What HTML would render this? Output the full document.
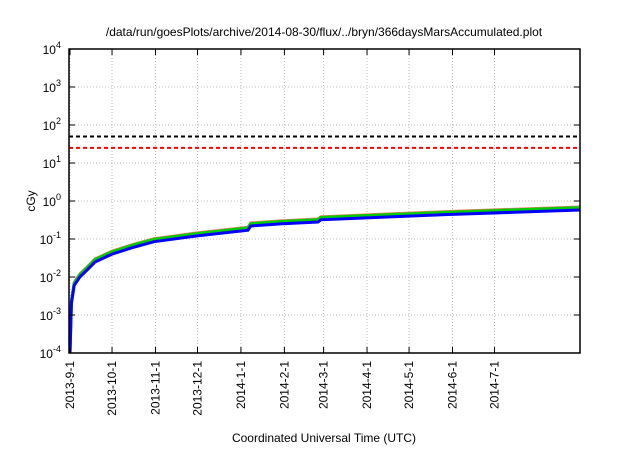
<!DOCTYPE html>
<html><head><meta charset="utf-8"><style>
body{margin:0;background:#fff;}
svg text{font-family:"Liberation Sans",sans-serif;fill:#000;}
</style></head><body>
<svg width="640" height="448" id="c">
<text x="324" y="36" font-size="12" text-anchor="middle">/data/run/goesPlots/archive/2014-08-30/flux/../bryn/366daysMarsAccumulated.plot</text>
<text x="0" y="0" font-size="12" text-anchor="middle" transform="translate(35,201) rotate(-90)">cGy</text>
<text x="324" y="442" font-size="12" text-anchor="middle">Coordinated Universal Time (UTC)</text>
<g id="grid"></g><g id="series"></g><g id="axes"></g>
</svg>
<script>
const yExps=[-4,-3,-2,-1,0,1,2,3,4];
const xTickLabels=["2013-9-1","2013-10-1","2013-11-1","2013-12-1","2014-1-1","2014-2-1","2014-3-1","2014-4-1","2014-5-1","2014-6-1","2014-7-1"];
const xTickDays=[0,30,61,91,122,153,181,212,242,273,303];
const days=[0,1,3,7,12,18,30,45,60,90,127,129,150,177,179,220,270,320,364];
const blueVals=[0.0001,0.002,0.006,0.010,0.015,0.025,0.040,0.060,0.085,0.12,0.17,0.22,0.25,0.28,0.32,0.37,0.44,0.51,0.58];
const greenVals=[0.0001,0.0023,0.0069,0.0115,0.0173,0.029,0.046,0.069,0.098,0.138,0.196,0.253,0.288,0.322,0.368,0.426,0.506,0.587,0.667];
const redVals=[0.0001,0.0024,0.0072,0.012,0.018,0.030,0.048,0.072,0.102,0.144,0.204,0.264,0.30,0.336,0.384,0.444,0.528,0.612,0.696];
const limitBlack=50, limitRed=25;
const L=69,R=580,T=49,B=353;
const xs=d=>L+1+d*(R-L-1)/364;
const ys=v=>B-(Math.log10(v)+4)*(B-T)/8;
const NS="http://www.w3.org/2000/svg";
function mk(p,t,a){const e=document.createElementNS(NS,t);for(const k in a)e.setAttribute(k,a[k]);p.appendChild(e);return e;}
const grid=document.getElementById('grid'),ser=document.getElementById('series'),ax=document.getElementById('axes');
yExps.forEach(ex=>{const y=ys(Math.pow(10,ex));
 if(ex>-4&&ex<4){const g=mk(grid,'line',{x1:L,x2:R,y1:y,y2:y,stroke:'#bbb','stroke-dasharray':'1,2'});
 
 }
 mk(ax,'line',{x1:L,x2:L+6,y1:y,y2:y,stroke:'#000'});mk(ax,'line',{x1:R-6,x2:R,y1:y,y2:y,stroke:'#000'});
 const t=mk(ax,'text',{x:L-8,y:y+5,'font-size':12,'text-anchor':'end'});
 
 
 t.innerHTML='10<tspan dy="-6" font-size="9">'+ex+'</tspan>';});
xTickDays.forEach((d,i)=>{const x=xs(d);
 const g=mk(grid,'line',{x1:x,x2:x,y1:T,y2:B,stroke:'#bbb','stroke-dasharray':'1,2'});
 
 
 mk(ax,'line',{x1:x,x2:x,y1:B,y2:B-6,stroke:'#000'});mk(ax,'line',{x1:x,x2:x,y1:T,y2:T+6,stroke:'#000'});
 const t=mk(ax,'text',{x:0,y:0,'font-size':12,'text-anchor':'end',transform:`translate(${x+4},${B+8}) rotate(-90)`});
 
 
 t.textContent=xTickLabels[i];});
const lb=mk(ser,'line',{x1:L,x2:R,y1:ys(limitBlack),y2:ys(limitBlack),stroke:'#000','stroke-width':2,'stroke-dasharray':'4,3'});


const lr=mk(ser,'line',{x1:L,x2:R,y1:ys(limitRed),y2:ys(limitRed),stroke:'#f00','stroke-width':2,'stroke-dasharray':'4,3'});


[[redVals,'#e08060','series-red'],[greenVals,'#00cc00','series-green'],[blueVals,'#0000ff','series-blue']].forEach(([v,c,n])=>{
 const p=mk(ser,'polyline',{points:days.map((d,i)=>xs(d)+','+ys(v[i])).join(' '),fill:'none',stroke:c,'stroke-width':3});
 
 });
const fr=mk(ax,'rect',{x:L,y:T,width:R-L,height:B-T,fill:'none',stroke:'#000','stroke-width':1.5});


</script>
</body></html>
